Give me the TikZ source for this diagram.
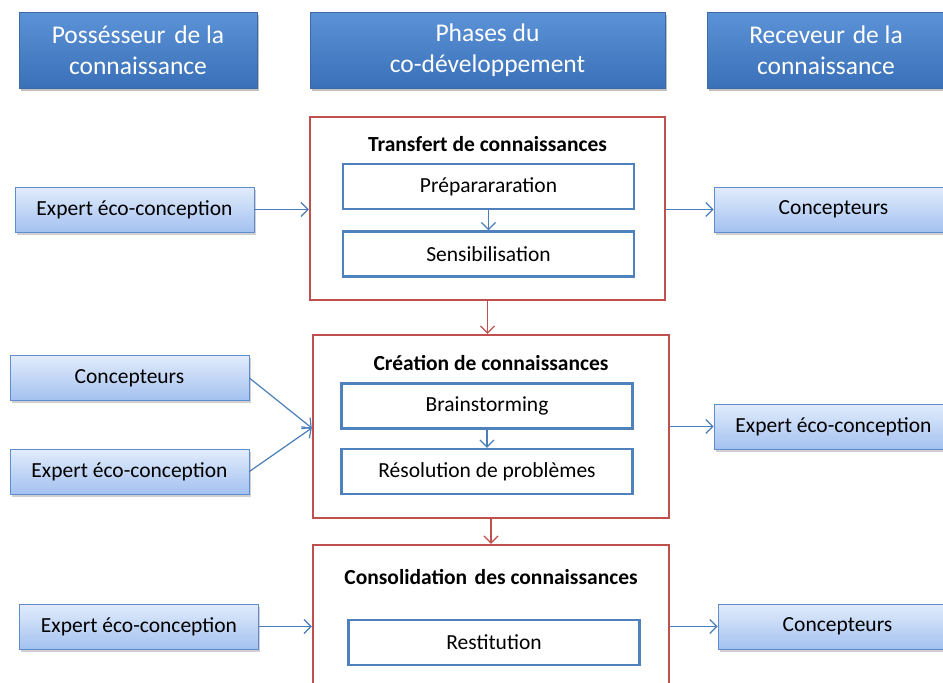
\documentclass[tikz,border=0pt]{standalone}
\usepackage{fontspec}
\setmainfont{Carlito}
\usetikzlibrary{arrows.meta,shadows}
\definecolor{hdrtop}{RGB}{92,146,214}
\definecolor{hdrbot}{RGB}{58,112,184}
\definecolor{hdrborder}{RGB}{60,104,165}
\definecolor{acttop}{RGB}{226,236,252}
\definecolor{actbot}{RGB}{163,193,240}
\definecolor{actborder}{RGB}{95,140,205}
\definecolor{phred}{RGB}{192,80,77}
\definecolor{inblue}{RGB}{79,129,189}
\definecolor{arrblue}{RGB}{74,126,187}
\tikzset{
  hdr/.style={draw=hdrborder, line width=0.8pt, top color=hdrtop, bottom color=hdrbot,
    text=white, font=\fontsize{25.5}{31}\selectfont, align=center, inner sep=0pt,
    minimum width=238, minimum height=76,
    drop shadow={shadow xshift=2pt, shadow yshift=-3pt, opacity=0.35, fill=black!70}},
  actor/.style={draw=actborder, line width=0.8pt, top color=acttop, bottom color=actbot,
    font=\fontsize{21.5}{24}\selectfont, inner sep=0pt, minimum width=239, minimum height=45,
    drop shadow={shadow xshift=1.5pt, shadow yshift=-2.5pt, opacity=0.3, fill=black!60}},
  phase/.style={draw=phred, line width=2.4pt, fill=white, inner sep=0pt},
  ttl/.style={font=\bfseries\fontsize{21.5}{24}\selectfont, inner sep=0pt},
  stepbox/.style={draw=inblue, line width=2.4pt, fill=white, inner sep=0pt,
    minimum width=291, minimum height=45, font=\fontsize{21.5}{24}\selectfont},
  barrow/.style={draw=arrblue, line width=1.2pt, -{Straight Barb[length=7,width=14]}},
  rarrow/.style={draw=phred, line width=1.2pt, -{Straight Barb[length=7,width=14]}}
}
\begin{document}
\begin{tikzpicture}[x=1pt,y=-1pt]
\useasboundingbox (0,0) rectangle (943,683);
\clip (0,0) rectangle (943,683);
\fill[white] (0,0) rectangle (943,683);
% headers
\node[hdr] (h1) at (138,50) {Possésseur\hspace{0.12em} de la\\connaissance};
\node[hdr, minimum width=355] (h2) at (487.5,50) {Phases du\\co-développement};
\node[hdr] (h3) at (826,50) {Receveur\hspace{0.08em} de la\\connaissance};
% phase boxes
\node[phase, minimum width=355, minimum height=183] (p1) at (487.5,208.5) {};
\node[phase, minimum width=356, minimum height=183] (p2) at (491,426.5) {};
\node[phase, minimum width=356, minimum height=170] (p3) at (491,630) {};
\node[ttl] (t1) at (487.5,144) {Transfert de connaissances};
\node[ttl] (t2) at (491,363) {Création de connaissances};
\node[ttl] (t3) at (491,577) {Consolidation\hspace{0.12em} des connaissances};
\node[stepbox] (s1) at (488.5,186.5) {Préparararation};
\node[stepbox] (s2) at (488.5,254) {Sensibilisation};
\node[stepbox] (s3) at (487,406) {Brainstorming};
\node[stepbox] (s4) at (487,471.5) {Résolution de problèmes};
\node[stepbox] (s5) at (494,642.5) {Restitution};
\draw[barrow] (s1) -- (s2);
\draw[barrow] (s3) -- (s4);
\draw[rarrow] (p1.south) -- (p2.north -| p1.south);
\draw[rarrow] (p2.south) -- (p3.north);
% actors left
\node[actor] (l1) at (134.5,209.5) {Expert éco-conception};
\node[actor] (l2) at (129.5,378) {Concepteurs};
\node[actor] (l3) at (129.5,471.5) {Expert éco-conception};
\node[actor] (l4) at (139,626.5) {Expert éco-conception};
% actors right
\node[actor] (r1) at (833.5,209.5) {Concepteurs};
\node[actor] (r2) at (833.5,426.5) {Expert éco-conception};
\node[actor] (r3) at (837.5,626.5) {Concepteurs};
% connectors
\draw[barrow] (l1.east) -- (l1.east -| p1.west);
\coordinate (c2) at (p2.west |- 0,428);
\draw[barrow] (l2.east) -- (c2);
\draw[barrow] (l3.east) -- (c2);
\draw[barrow] (l4.east) -- (l4.east -| p3.west);
\draw[barrow] (p1.east |- r1.west) -- (r1.west);
\draw[barrow] (p2.east |- r2.west) -- (r2.west);
\draw[barrow] (p3.east |- r3.west) -- (r3.west);
\end{tikzpicture}
\end{document}
